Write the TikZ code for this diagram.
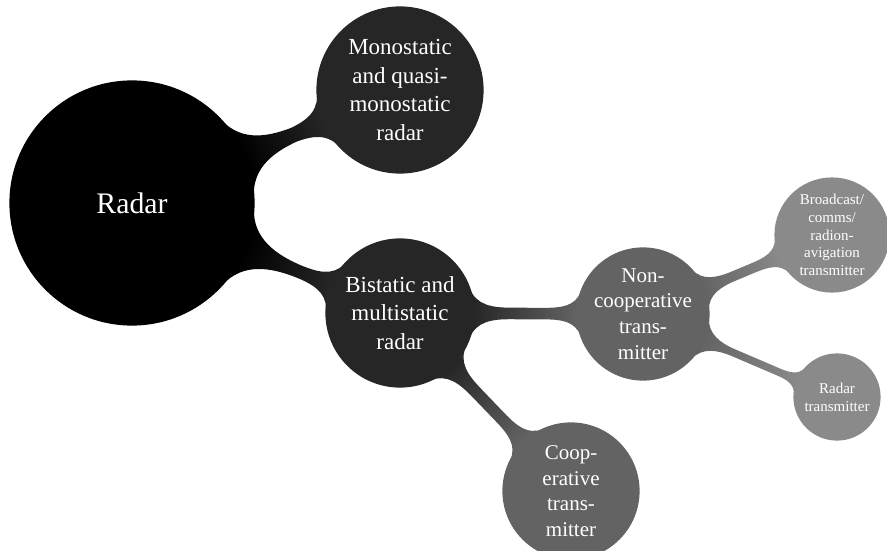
\documentclass[tikz,border=0pt]{standalone}
\usepackage{fontspec}
\setmainfont{Liberation Serif}
\newfontfamily\diagfont{Liberation Serif}
\usetikzlibrary{mindmap}
\definecolor{levA}{gray}{0.15}
\definecolor{levB}{gray}{0.39}
\definecolor{levC}{gray}{0.54}
\tikzset{
  cpt/.style={concept, circle, inner sep=-4pt, text=white, align=center, text width=},
  rootc/.style={cpt, concept color=black, minimum size=244pt, font=\diagfont\fontsize{29.8}{36}\selectfont},
  lone/.style={cpt, concept color=levA, minimum size=#1, font=\diagfont\fontsize{23}{28.6}\selectfont},
  ltwo/.style={cpt, concept color=levB, minimum size=#1, font=\diagfont\fontsize{21}{25.7}\selectfont},
  lthree/.style={cpt, concept color=levC, minimum size=#1, font=\diagfont\fontsize{15}{17.8}\selectfont},
}
\begin{document}
\begin{tikzpicture}[mindmap, x=1pt, y=-1pt]
\useasboundingbox (0,0) rectangle (887,551);
\node[rootc] (root) at (132,203) {Radar};
\node[lone=166pt] (mono) at (400,90) {Monostatic\\and quasi-\\monostatic\\radar};
\node[lone=148pt] (bi) at (400,313) {Bistatic and\\multistatic\\radar};
\node[ltwo=132pt] (nc) at (643,314) {Non-\\cooperative\\trans-\\mitter};
\node[ltwo=136pt] (co) at (571,491) {Coop-\\erative\\trans-\\mitter};
\node[lthree=114pt] (bc) at (832,235) {Broadcast/\\comms/\\radion-\\avigation\\transmitter};
\node[lthree=86pt] (rt) at (837,397) {Radar\\transmitter};
\path[line width=13pt] (root) to[circle connection bar switch color=from (black) to (levA)] (mono);
\path[line width=13pt] (root) to[circle connection bar switch color=from (black) to (levA)] (bi);
\path[line width=13pt] (bi) to[circle connection bar switch color=from (levA) to (levB)] (nc);
\path[line width=11pt] (bi) to[circle connection bar switch color=from (levA) to (levB)] (co);
\path[line width=10pt] (nc) to[circle connection bar switch color=from (levB) to (levC)] (bc);
\path[line width=8pt] (nc) to[circle connection bar switch color=from (levB) to (levC)] (rt);
\end{tikzpicture}
\end{document}
